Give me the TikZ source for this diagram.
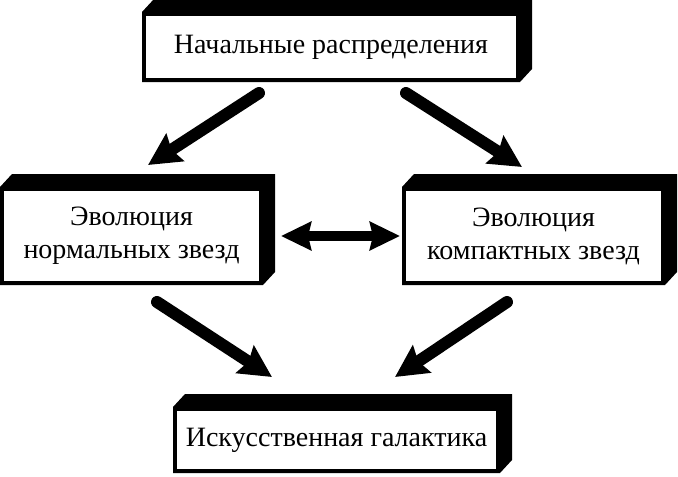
\documentclass[tikz,border=0pt]{standalone}
\usepackage{fontspec}
\setmainfont{Liberation Serif}
\usetikzlibrary{arrows.meta,calc,backgrounds}
\begin{document}
\begin{tikzpicture}[x=1pt,y=-1pt,
  face/.style={draw=none,fill=white,rectangle,inner sep=0pt,outer sep=4pt,
    font=\fontsize{28}{33}\selectfont,align=center},
  bigarrow/.style={line width=12pt,line cap=round,-{Stealth[length=32pt,width=32pt,inset=4pt]}},
  dblarrow/.style={line width=10pt,{Stealth[length=30pt,width=28pt,inset=3pt]}-{Stealth[length=30pt,width=28pt,inset=3pt]}}
]
\useasboundingbox (0,0) rectangle (678,477);
\newcommand{\extrude}[1]{%
  \fill[black] (#1.north west) -- ($(#1.north west)+(12,-13)$)
    -- ($(#1.north east)+(12,-13)$) -- ($(#1.south east)+(12,-13)$)
    -- (#1.south east) -- (#1.south west) -- cycle;}
\node[face,minimum width=370pt,minimum height=62pt] (top) at (331,47) {Начальные распределения};
\node[face,minimum width=255pt,minimum height=90pt] (left) at (131.5,236) {Эволюция\\нормальных звезд};
\node[face,minimum width=255pt,minimum height=90pt] (right) at (533.5,236) {Эволюция\\компактных звезд};
\node[face,minimum width=319pt,minimum height=58pt] (bot) at (336.5,440) {Искусственная галактика};
\begin{scope}[on background layer]
\extrude{top}\extrude{left}\extrude{right}\extrude{bot}
\end{scope}
\coordinate (a1) at (259,93); \coordinate (a1t) at (148,165);
\coordinate (a2) at (406,93); \coordinate (a2t) at (522,167);
\coordinate (a3) at (157,302); \coordinate (a3t) at (272,377);
\coordinate (a4) at (507,302); \coordinate (a4t) at (395,377);
\coordinate (h1) at (281,236); \coordinate (h2) at (400,236);
\draw[bigarrow] (a1) -- (a1t);
\draw[bigarrow] (a2) -- (a2t);
\draw[bigarrow] (a3) -- (a3t);
\draw[bigarrow] (a4) -- (a4t);
\draw[dblarrow] (h1) -- (h2);
\end{tikzpicture}
\end{document}
